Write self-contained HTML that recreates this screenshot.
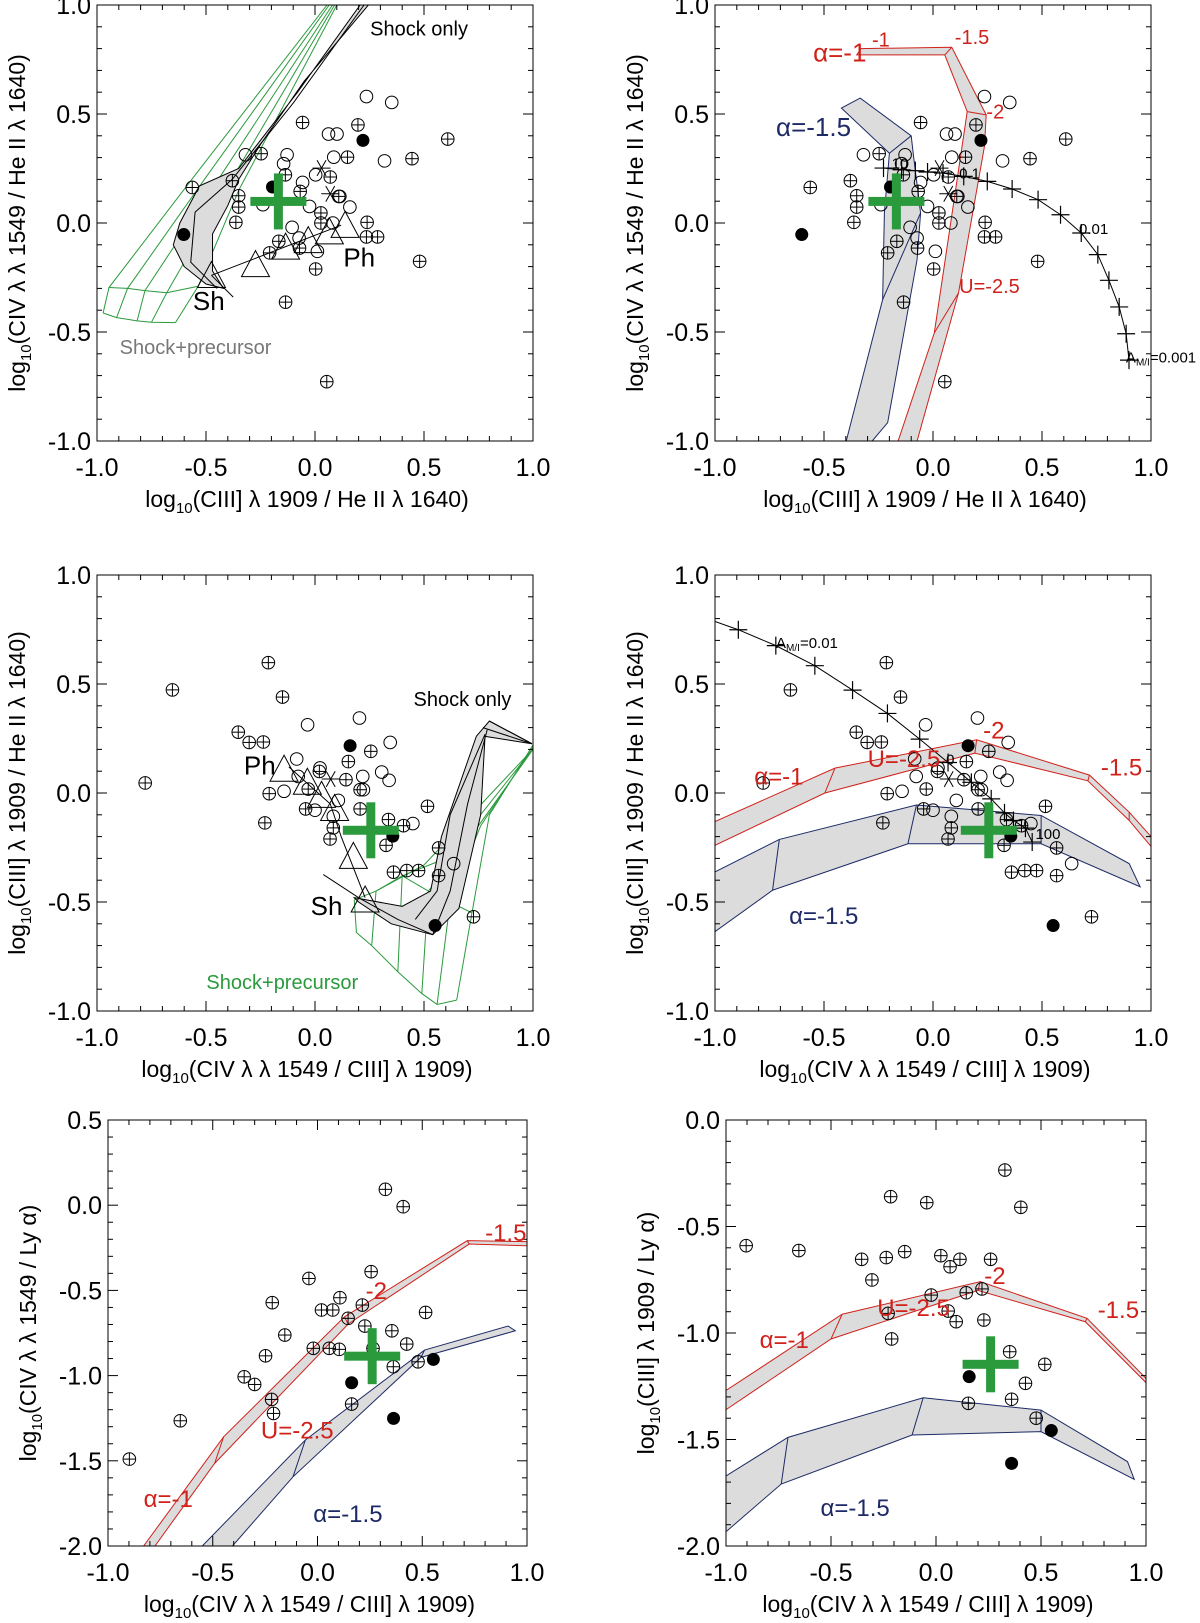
<!DOCTYPE html>
<html><head><meta charset="utf-8">
<style>
html,body{margin:0;padding:0;background:#fff;}
svg{display:block;font-family:"Liberation Sans",Arial,sans-serif;}
</style></head>
<body>
<svg id="fig" width="1200" height="1623" viewBox="0 0 1200 1623" xmlns="http://www.w3.org/2000/svg"></svg>
<script>
// ---------- DATA ----------
const r1OpenX=[0.236,0.352,0.062,0.101,-0.319,-0.128,0.086,0.319,-0.057,0.003,0.114,0.16,-0.025,-0.239,-0.105,-0.073,0.011,0.082,-0.144];
const r1OpenY=[0.58,0.553,0.408,0.408,0.313,0.313,0.302,0.285,0.186,0.221,0.122,0.073,0.076,0.084,-0.02,-0.069,-0.13,0,0.272];
const r1PlusX=[-0.057,0.197,0.609,0.149,0.445,-0.247,-0.379,-0.563,-0.35,-0.35,-0.363,-0.136,0.07,-0.068,0.027,0.027,0.239,0.236,0.287,-0.166,-0.208,-0.071,0.003,0.48,-0.135,0.054,0.109];
const r1PlusY=[0.461,0.45,0.385,0.302,0.295,0.318,0.194,0.163,0.125,0.073,0.003,0.221,0.211,0.145,0.046,0,0.003,-0.064,-0.064,-0.084,-0.137,-0.115,-0.211,-0.176,-0.363,-0.728,0.122];
const r1FillX=[0.22,-0.195,-0.602];
const r1FillY=[0.379,0.165,-0.053];
const r1StarX=[0.03,0.07];
const r1StarY=[0.252,0.134];
const r1CrossX=[-0.168], r1CrossY=[0.099];
const p1TriX=[-0.273,-0.135,-0.031,0.066,0.138,-0.475];
const p1TriY=[-0.2,-0.12,-0.09,-0.05,-0.02,-0.25];
const p1GrayX=[0.207,-0.08,-0.35,-0.53,-0.62,-0.65,-0.6,-0.5,-0.42,-0.47,-0.47,-0.4,-0.35,-0.25,-0.05,0.245];
const p1GrayY=[1.0,0.6,0.25,0.17,0.0,-0.1,-0.2,-0.28,-0.3,-0.22,-0.05,0.08,0.2,0.36,0.65,1.0];
const p1InnerX=[0.225,-0.1,-0.38,-0.55,-0.57,-0.45];
const p1InnerY=[1.0,0.55,0.2,0.05,-0.18,-0.3];
const p1GreenV=[
 [[0.055,1.0],[-0.55,0.22],[-0.945,-0.296],[-0.972,-0.413]],
 [[0.065,1.0],[-0.5,0.21],[-0.86,-0.30],[-0.91,-0.434]],
 [[0.08,1.0],[-0.45,0.19],[-0.78,-0.31],[-0.816,-0.449]],
 [[0.09,1.0],[-0.40,0.17],[-0.68,-0.32],[-0.75,-0.455]],
 [[0.10,1.0],[-0.35,0.15],[-0.536,-0.29],[-0.64,-0.457]]];
const p2RedX=[-0.35,-0.33,0.086,0.244,0.236,0.117,-0.073,-0.16,0.006,0.157,0.054];
const p2RedY=[0.771,0.80,0.806,0.496,0.351,-0.321,-1.0,-1.0,-0.504,0.511,0.771];
const p2BlueX=[-0.42,-0.334,-0.1,-0.089,-0.057,-0.073,-0.208,-0.279,-0.398,-0.231,-0.223,-0.2];
const p2BlueY=[0.527,0.573,0.40,0.305,0.046,-0.168,-0.916,-1.0,-1.0,-0.351,0.046,0.32];
const p2AmiX=[-0.227,-0.144,-0.081,-0.025,0.046,0.141,0.249,0.363,0.482,0.585,0.68,0.756,0.807,0.854,0.886,0.899];
const p2AmiY=[0.252,0.244,0.24,0.234,0.229,0.214,0.191,0.156,0.107,0.038,-0.046,-0.145,-0.263,-0.385,-0.508,-0.629];
const r2PlusX=[-0.214,-0.654,-0.149,-0.352,-0.302,-0.237,-0.779,-0.21,-0.23,-0.031,-0.043,0.02,0.153,0.256,0.142,0.207,0.207,0.337,0.406,0.516,0.069,0.084,0.326,0.36,0.421,0.475,0.567,0.567,0.727];
const r2PlusY=[0.598,0.473,0.44,0.279,0.232,0.234,0.046,-0.003,-0.137,0.018,-0.073,0.099,0.144,0.191,0.061,0.015,-0.073,-0.122,-0.15,-0.061,-0.211,-0.16,-0.24,-0.363,-0.356,-0.356,-0.252,-0.379,-0.568];
const r2OpenX=[0.204,-0.034,0.345,-0.084,-0.142,-0.077,0.023,0.219,0.306,0.34,0.107,0,0.084,0.222,0.449,0.636];
const r2OpenY=[0.344,0.313,0.232,0.156,0.008,0.076,0.115,0.076,0.096,0.058,-0.034,-0.079,-0.107,0.015,-0.14,-0.324];
const r2FillX=[0.161,0.357,0.551];
const r2FillY=[0.217,-0.198,-0.608];
const r2StarX=[0.072], r2StarY=[0.064];
const r2CrossX=[0.256], r2CrossY=[-0.171];
const p3TriX=[-0.142,-0.035,0.03,0.09,0.176,0.23];
const p3TriY=[0.10,0.04,-0.02,-0.08,-0.30,-0.5];
const p3GrayX=[0.74,0.80,0.995,0.78,0.76,0.66,0.54,0.35,0.2,0.18,0.4,0.53,0.58];
const p3GrayY=[0.26,0.33,0.226,0.26,-0.1,-0.53,-0.65,-0.6,-0.5,-0.48,-0.52,-0.45,-0.2];
const p3Black=[
 [[0.78,0.27],[0.62,-0.1],[0.56,-0.45],[0.46,-0.58]],
 [[0.79,0.29],[0.70,-0.05],[0.62,-0.45],[0.54,-0.65]],
 [[0.038,-0.374],[0.2,-0.48],[0.38,-0.58],[0.54,-0.65]],
 [[0.8,0.33],[0.995,0.226]],[[0.77,0.30],[0.995,0.226]]];
const p3Green=[
 [[1.0,0.22],[0.80,-0.10],[0.72,-0.55],[0.65,-0.95]],
 [[1.0,0.21],[0.76,-0.15],[0.62,-0.50],[0.56,-0.97]],
 [[1.0,0.20],[0.70,-0.22],[0.52,-0.45],[0.49,-0.92]],
 [[0.99,0.19],[0.60,-0.30],[0.40,-0.38],[0.38,-0.82]],
 [[0.98,0.18],[0.50,-0.33],[0.28,-0.45],[0.26,-0.70]],
 [[0.18,-0.49],[0.19,-0.64],[0.26,-0.70],[0.38,-0.82],[0.49,-0.92],[0.56,-0.97],[0.65,-0.95]],
 [[0.18,-0.49],[0.28,-0.45],[0.40,-0.38],[0.52,-0.45],[0.62,-0.50],[0.72,-0.55]]];
const p4RedUX=[-1,-0.45,0.2,0.718,0.9,1.0], p4RedUY=[-0.131,0.114,0.244,0.082,-0.088,-0.2];
const p4RedLX=[-1,-0.496,0.192,0.71,0.9,1.0], p4RedLY=[-0.24,0,0.183,0.056,-0.126,-0.245];
const p4BluUX=[-1,-0.705,-0.076,0.496,0.9,0.95], p4BluUY=[-0.362,-0.213,-0.055,-0.103,-0.324,-0.43];
const p4BluLX=[-1,-0.736,-0.115,0.496,0.95], p4BluLY=[-0.636,-0.446,-0.233,-0.233,-0.43];
const p4AmiX=[-0.893,-0.721,-0.542,-0.369,-0.209,-0.061,0.069,0.176,0.267,0.328,0.369,0.424,0.455];
const p4AmiY=[0.749,0.676,0.584,0.472,0.365,0.247,0.14,0.049,-0.027,-0.091,-0.126,-0.161,-0.225];
const p5PlusX=[-0.898,-0.655,-0.35,-0.3,-0.219,-0.21,-0.248,-0.156,-0.216,-0.041,-0.02,0.019,0.073,0.056,0.104,0.107,0.146,0.163,0.214,0.226,0.256,0.265,0.324,0.409,0.355,0.362,0.426,0.48,0.516];
const p5PlusY=[-1.49,-1.265,-1.007,-1.052,-1.14,-1.222,-0.884,-0.762,-0.572,-0.43,-0.84,-0.615,-0.615,-0.84,-0.846,-0.543,-0.664,-1.167,-0.586,-0.709,-0.39,-0.84,0.093,-0.009,-0.737,-0.948,-0.815,-0.919,-0.629];
const p5FillX=[0.163,0.363,0.553], p5FillY=[-1.042,-1.251,-0.905];
const p5CrossX=[0.261], p5CrossY=[-0.886];
const p5RedUX=[-0.83,-0.448,0.129,0.715,1.0], p5RedUY=[-2.0,-1.359,-0.655,-0.208,-0.214];
const p5RedLX=[-0.776,-0.491,0.146,0.724,1.0], p5RedLY=[-2.0,-1.515,-0.698,-0.228,-0.238];
const p5BluUX=[-0.55,-0.058,0.511,0.91,0.944], p5BluUY=[-2.0,-1.378,-0.85,-0.709,-0.737];
const p5BluLX=[-0.406,-0.117,0.494,0.944], p5BluLY=[-2.0,-1.594,-0.893,-0.737];
const p6PlusX=[-0.904,-0.653,-0.354,-0.305,-0.237,-0.216,-0.149,-0.228,-0.211,-0.044,-0.023,0.023,0.067,0.058,0.096,0.114,0.144,0.154,0.219,0.228,0.26,0.328,0.351,0.36,0.404,0.426,0.477,0.518];
const p6PlusY=[-0.59,-0.613,-0.654,-0.751,-0.646,-0.36,-0.618,-0.908,-1.028,-0.388,-0.822,-0.637,-0.689,-0.897,-0.947,-0.654,-0.811,-1.33,-0.793,-0.939,-0.654,-0.235,-1.088,-1.311,-0.41,-1.236,-1.4,-1.147];
const p6FillX=[0.158,0.36,0.549], p6FillY=[-1.205,-1.612,-1.458];
const p6CrossX=[0.26], p6CrossY=[-1.147];
const p6RedUX=[-1,-0.447,0.211,0.719,1], p6RedUY=[-1.27,-0.912,-0.759,-0.931,-1.213];
const p6RedLX=[-1,-0.5,0.2,0.711,1], p6RedLY=[-1.36,-1.028,-0.80,-0.947,-1.233];
const p6BluUX=[-1,-0.705,-0.061,0.5,0.912,0.944], p6BluUY=[-1.671,-1.49,-1.304,-1.362,-1.604,-1.687];
const p6BluLX=[-1,-0.737,-0.114,0.5,0.944], p6BluLY=[-1.933,-1.709,-1.479,-1.463,-1.687];

// ---------- DRAWING ----------
const NS='http://www.w3.org/2000/svg';
const svg=document.getElementById('fig');
const RED='#d0211a', BLUE='#1d2a66', GREEN='#2a9a3c', GRAY='#dcdcdc';
function mk(parent,tag,attrs,name){
  const el=document.createElementNS(NS,tag);
  for(const k in attrs) el.setAttribute(k,attrs[k]);
  
  
  parent.appendChild(el); return el;
}
let clipN=0;
function panel(id,x0,x1,y0,y1,xmin,xmax,ymin,ymax,xtitle,ytitle){
  const g=mk(svg,'g',{},id);
  const sx=v=>x0+(v-xmin)/(xmax-xmin)*(x1-x0);
  const sy=v=>y1-(v-ymin)/(ymax-ymin)*(y1-y0);
  clipN++;
  const cp=mk(g,'clipPath',{id:'cp'+clipN},'clip-region');
  mk(cp,'rect',{x:x0,y:y0,width:x1-x0,height:y1-y0},'clip-rect');
  const plot=mk(g,'g',{'clip-path':'url(#cp'+clipN+')'},'plot-area');
  const axes=mk(g,'g',{stroke:'#000','stroke-width':1,fill:'none'},'axes');
  mk(axes,'rect',{x:x0,y:y0,width:x1-x0,height:y1-y0},'axes-frame');
  for(let i=Math.round(xmin*10);i<=Math.round(xmax*10);i++){
    const v=i/10, X=sx(v), major=(i%5===0), L=major?10:5;
    mk(axes,'line',{x1:X,y1:y1,x2:X,y2:y1-L},'x-tick');
    mk(axes,'line',{x1:X,y1:y0,x2:X,y2:y0+L},'x-tick-top');
    if(major){
      const t=mk(g,'text',{x:X,y:y1+35,'font-size':25,'text-anchor':'middle'},'x-tick-label');
      t.textContent=v.toFixed(1);
    }
  }
  for(let i=Math.round(ymin*10);i<=Math.round(ymax*10);i++){
    const v=i/10, Y=sy(v), major=(i%5===0), L=major?10:5;
    mk(axes,'line',{x1:x0,y1:Y,x2:x0+L,y2:Y},'y-tick');
    mk(axes,'line',{x1:x1,y1:Y,x2:x1-L,y2:Y},'y-tick-right');
    if(major){
      const t=mk(g,'text',{x:x0-6,y:Y+9,'font-size':25,'text-anchor':'end'},'y-tick-label');
      t.textContent=v.toFixed(1);
    }
  }
  const xt=mk(g,'text',{x:(x0+x1)/2-8,y:y1+66,'font-size':23,'text-anchor':'middle'},'x-axis-title');
  xt.innerHTML='log<tspan font-size="15" dy="6">10</tspan><tspan dy="-6">'+xtitle+'</tspan>';
  const ycx=x0-72, ycy=(y0+y1)/2;
  const yt=mk(g,'text',{x:ycx,y:ycy,'font-size':23,'text-anchor':'middle',transform:'rotate(-90 '+ycx+' '+ycy+')'},'y-axis-title');
  yt.innerHTML='log<tspan font-size="15" dy="6">10</tspan><tspan dy="-6">'+ytitle+'</tspan>';
  return {g,plot,sx,sy};
}
function poly(P,parent,xs,ys,attrs,name){
  const pts=xs.map((x,i)=>P.sx(x)+','+P.sy(ys[i])).join(' ');
  return mk(parent,'polygon',Object.assign({points:pts},attrs),name);
}
function pline(P,parent,pairs,attrs,name){
  const pts=pairs.map(p=>P.sx(p[0])+','+P.sy(p[1])).join(' ');
  return mk(parent,'polyline',Object.assign({points:pts,fill:'none'},attrs),name);
}
function band(P,ux,uy,lx,ly,col,name){
  const xs=ux.concat(lx.slice().reverse()), ys=uy.concat(ly.slice().reverse());
  poly(P,P.plot,xs,ys,{fill:GRAY,stroke:col,'stroke-width':1},name);
  const n=Math.min(ux.length,lx.length);
  for(let i=1;i<n-1;i++){
    mk(P.plot,'line',{x1:P.sx(ux[i]),y1:P.sy(uy[i]),x2:P.sx(lx[i]),y2:P.sy(ly[i]),stroke:col,'stroke-width':1},name+'-grid');
  }
}
function openPts(P,xs,ys){xs.forEach((x,i)=>{mk(P.g,'circle',{cx:P.sx(x),cy:P.sy(ys[i]),r:6.3,fill:'none',stroke:'#000','stroke-width':1},'open-circle-point');});}
function plusPts(P,xs,ys){xs.forEach((x,i)=>{
  const X=P.sx(x),Y=P.sy(ys[i]);
  const gg=mk(P.g,'g',{stroke:'#000','stroke-width':1,fill:'none'},'circle-plus-point');
  mk(gg,'circle',{cx:X,cy:Y,r:6.3},'circle-plus-ring');
  mk(gg,'line',{x1:X-6.3,y1:Y,x2:X+6.3,y2:Y},'circle-plus-h');
  mk(gg,'line',{x1:X,y1:Y-6.3,x2:X,y2:Y+6.3},'circle-plus-v');
});}
function fillPts(P,xs,ys){xs.forEach((x,i)=>{mk(P.g,'circle',{cx:P.sx(x),cy:P.sy(ys[i]),r:6.5,fill:'#000'},'filled-point');});}
function starPts(P,xs,ys){xs.forEach((x,i)=>{
  const X=P.sx(x),Y=P.sy(ys[i]);
  const gg=mk(P.g,'g',{stroke:'#000','stroke-width':1},'star-point');
  [0,60,120].forEach(a=>{const r=a*Math.PI/180,dx=9*Math.cos(r),dy=9*Math.sin(r);
    mk(gg,'line',{x1:X-dx,y1:Y-dy,x2:X+dx,y2:Y+dy},'star-arm');});
});}
function triPts(P,xs,ys){xs.forEach((x,i)=>{
  const X=P.sx(x),Y=P.sy(ys[i]);
  mk(P.g,'polygon',{points:(X)+','+(Y-16)+' '+(X-14)+','+(Y+10)+' '+(X+14)+','+(Y+10),fill:'none',stroke:'#000','stroke-width':1},'triangle-model-point');
});}
function crossPts(P,xs,ys){xs.forEach((x,i)=>{
  const X=P.sx(x),Y=P.sy(ys[i]);
  mk(P.g,'rect',{x:X-28,y:Y-4.5,width:56,height:9,fill:GREEN},'mean-cross-h');
  mk(P.g,'rect',{x:X-4.5,y:Y-28,width:9,height:56,fill:GREEN},'mean-cross-v');
});}
function amiPts(P,xs,ys,start){
  const pairs=xs.map((x,i)=>[x,ys[i]]);
  if(start) pairs.unshift(start);
  pline(P,P.plot,pairs,{stroke:'#000','stroke-width':1},'ami-sequence-line');
  xs.forEach((x,i)=>{const X=P.sx(x),Y=P.sy(ys[i]);
    mk(P.plot,'path',{d:'M'+(X-9)+' '+Y+'H'+(X+9)+'M'+X+' '+(Y-9)+'V'+(Y+9),stroke:'#000','stroke-width':1.2},'ami-marker');});
}
function label(P,x,y,txt,size,col,name,html){
  const t=mk(P.g,'text',{x:P.sx(x),y:P.sy(y),'font-size':size,fill:col},name);
  if(html) t.innerHTML=txt; else t.textContent=txt;
  return t;
}
const T_CIV_HE='(CIV \u03bb \u03bb 1549 / He II \u03bb 1640)';
const T_CIII_HE='(CIII] \u03bb 1909 / He II \u03bb 1640)';
const T_CIV_CIII='(CIV \u03bb \u03bb 1549 / CIII] \u03bb 1909)';

// Panel 1
let P=panel('panel-shock-civ-heii',97,533,5,441,-1,1,-1,1,T_CIII_HE,T_CIV_HE);
p1GreenV.forEach(l=>pline(P,P.plot,l,{stroke:GREEN,'stroke-width':1},'shock-precursor-grid'));
pline(P,P.plot,p1GreenV.map(l=>l[2]),{stroke:GREEN,'stroke-width':1},'shock-precursor-grid');
pline(P,P.plot,p1GreenV.map(l=>l[3]),{stroke:GREEN,'stroke-width':1},'shock-precursor-grid');
poly(P,P.plot,p1GrayX,p1GrayY,{fill:GRAY,stroke:'#000','stroke-width':1},'shock-only-region');
pline(P,P.plot,p1InnerX.map((x,i)=>[x,p1InnerY[i]]),{stroke:'#000','stroke-width':1},'shock-only-grid');
pline(P,P.plot,[[-0.475,-0.24],[0.12,-0.01]],{stroke:'#000','stroke-width':1},'sh-ph-line');
pline(P,P.plot,[[-0.475,-0.24],[-0.375,-0.34]],{stroke:'#000','stroke-width':1},'sh-tail-line');
triPts(P,p1TriX,p1TriY);
openPts(P,r1OpenX,r1OpenY);plusPts(P,r1PlusX,r1PlusY);fillPts(P,r1FillX,r1FillY);starPts(P,r1StarX,r1StarY);
crossPts(P,r1CrossX,r1CrossY);
label(P,0.253,0.86,'Shock only',20,'#000','shock-only-label');
label(P,0.13,-0.2,'Ph',26,'#000','ph-label');
label(P,-0.56,-0.4,'Sh',26,'#000','sh-label');
label(P,-0.896,-0.6,'Shock+precursor',20,'#777','shock-precursor-label');

// Panel 2
P=panel('panel-agn-civ-heii',715,1151,5,441,-1,1,-1,1,T_CIII_HE,T_CIV_HE);
poly(P,P.plot,p2RedX,p2RedY,{fill:GRAY,stroke:RED,'stroke-width':1},'alpha-1-band');
pline(P,P.plot,[[0.006,-0.504],[0.117,-0.321]],{stroke:RED,'stroke-width':1},'alpha-1-grid');
pline(P,P.plot,[[0.157,0.511],[0.244,0.496]],{stroke:RED,'stroke-width':1},'alpha-1-grid');
pline(P,P.plot,[[0.054,0.771],[0.086,0.806]],{stroke:RED,'stroke-width':1},'alpha-1-grid');
poly(P,P.plot,p2BlueX,p2BlueY,{fill:GRAY,stroke:BLUE,'stroke-width':1},'alpha-1.5-band');
pline(P,P.plot,[[-0.2,0.32],[-0.1,0.40]],{stroke:BLUE,'stroke-width':1},'alpha-1.5-grid');
pline(P,P.plot,[[-0.231,-0.351],[-0.057,0.046]],{stroke:BLUE,'stroke-width':1},'alpha-1.5-grid');
openPts(P,r1OpenX,r1OpenY);plusPts(P,r1PlusX,r1PlusY);fillPts(P,r1FillX,r1FillY);starPts(P,r1StarX,r1StarY);
amiPts(P,p2AmiX,p2AmiY,null);
crossPts(P,r1CrossX,r1CrossY);
label(P,-0.55,0.74,'\u03b1=-1',26,RED,'alpha-1-label');
label(P,-0.28,0.81,'-1',20,RED,'u-1-label');
label(P,0.1,0.82,'-1.5',20,RED,'u-1.5-label');
label(P,0.245,0.48,'-2',20,RED,'u-2-label');
label(P,0.12,-0.32,'U=-2.5',20,RED,'u-2.5-label');
label(P,-0.72,0.40,'\u03b1=-1.5',26,BLUE,'alpha-1.5-label');
label(P,0.12,0.205,'0.1',15,'#000','ami-0.1-label');
label(P,0.67,-0.05,'0.01',15,'#000','ami-0.01-label');
label(P,-0.19,0.25,'10',15,'#000','ami-10-label');
label(P,0.885,-0.64,'A<tspan font-size="10" dy="3">M/I</tspan><tspan dy="-3">=0.001</tspan>',15,'#000','ami-0.001-label',true);

// Panel 3
P=panel('panel-shock-ciii-heii',97,533,575,1011,-1,1,-1,1,T_CIV_CIII,T_CIII_HE);
p3Green.forEach(l=>pline(P,P.plot,l,{stroke:GREEN,'stroke-width':1},'shock-precursor-grid'));
poly(P,P.plot,p3GrayX,p3GrayY,{fill:GRAY,stroke:'#000','stroke-width':1},'shock-only-region');
p3Black.forEach(l=>pline(P,P.plot,l,{stroke:'#000','stroke-width':1},'shock-only-grid'));
pline(P,P.plot,[[-0.12,0.12],[0.07,-0.05],[0.12,-0.2],[0.23,-0.48]],{stroke:'#000','stroke-width':1},'ph-sh-line');
triPts(P,p3TriX,p3TriY);
openPts(P,r2OpenX,r2OpenY);plusPts(P,r2PlusX,r2PlusY);fillPts(P,r2FillX,r2FillY);starPts(P,r2StarX,r2StarY);
crossPts(P,r2CrossX,r2CrossY);
label(P,0.452,0.40,'Shock only',20,'#000','shock-only-label');
label(P,-0.326,0.085,'Ph',26,'#000','ph-label');
label(P,-0.02,-0.56,'Sh',26,'#000','sh-label');
label(P,-0.498,-0.9,'Shock+precursor',20,GREEN,'shock-precursor-label');

// Panel 4
P=panel('panel-agn-ciii-heii',715,1151,575,1011,-1,1,-1,1,T_CIV_CIII,T_CIII_HE);
band(P,p4RedUX,p4RedUY,p4RedLX,p4RedLY,RED,'alpha-1-band');
band(P,p4BluUX,p4BluUY,p4BluLX,p4BluLY,BLUE,'alpha-1.5-band');
openPts(P,r2OpenX,r2OpenY);plusPts(P,r2PlusX,r2PlusY);fillPts(P,r2FillX,r2FillY);starPts(P,r2StarX,r2StarY);
amiPts(P,p4AmiX,p4AmiY,[-1,0.787]);
crossPts(P,r2CrossX,r2CrossY);
label(P,-0.82,0.04,'\u03b1=-1',24,RED,'alpha-1-label');
label(P,-0.3,0.12,'U=-2.5',24,RED,'u-2.5-label');
label(P,0.23,0.25,'-2',24,RED,'u-2-label');
label(P,0.77,0.08,'-1.5',24,RED,'u-1.5-label');
label(P,-0.66,-0.6,'\u03b1=-1.5',24,BLUE,'alpha-1.5-label');
label(P,-0.72,0.665,'A<tspan font-size="10" dy="3">M/I</tspan><tspan dy="-3">=0.01</tspan>',15,'#000','ami-0.01-label',true);
label(P,0.06,0.13,'0',15,'#000','ami-0-label');
label(P,0.47,-0.21,'100',15,'#000','ami-100-label');

// Panel 5
P=panel('panel-civ-lya',108,527,1120,1546,-1,1,-2,0.5,T_CIV_CIII,'(CIV \u03bb \u03bb 1549 / Ly \u03b1)');
band(P,p5RedUX,p5RedUY,p5RedLX,p5RedLY,RED,'alpha-1-band');
band(P,p5BluUX,p5BluUY,p5BluLX,p5BluLY,BLUE,'alpha-1.5-band');
plusPts(P,p5PlusX,p5PlusY);fillPts(P,p5FillX,p5FillY);
crossPts(P,p5CrossX,p5CrossY);
label(P,-0.83,-1.77,'\u03b1=-1',24,RED,'alpha-1-label');
label(P,-0.27,-1.37,'U=-2.5',24,RED,'u-2.5-label');
label(P,0.23,-0.55,'-2',24,RED,'u-2-label');
label(P,0.8,-0.21,'-1.5',24,RED,'u-1.5-label');
label(P,-0.02,-1.86,'\u03b1=-1.5',24,BLUE,'alpha-1.5-label');

// Panel 6
P=panel('panel-ciii-lya',726,1146,1120,1546,-1,1,-2,0,T_CIV_CIII,'(CIII] \u03bb 1909 / Ly \u03b1)');
band(P,p6RedUX,p6RedUY,p6RedLX,p6RedLY,RED,'alpha-1-band');
band(P,p6BluUX,p6BluUY,p6BluLX,p6BluLY,BLUE,'alpha-1.5-band');
plusPts(P,p6PlusX,p6PlusY);fillPts(P,p6FillX,p6FillY);
crossPts(P,p6CrossX,p6CrossY);
label(P,-0.84,-1.07,'\u03b1=-1',24,RED,'alpha-1-label');
label(P,-0.28,-0.92,'U=-2.5',24,RED,'u-2.5-label');
label(P,0.23,-0.77,'-2',24,RED,'u-2-label');
label(P,0.77,-0.93,'-1.5',24,RED,'u-1.5-label');
label(P,-0.55,-1.86,'\u03b1=-1.5',24,BLUE,'alpha-1.5-label');
</script>
</body></html>
